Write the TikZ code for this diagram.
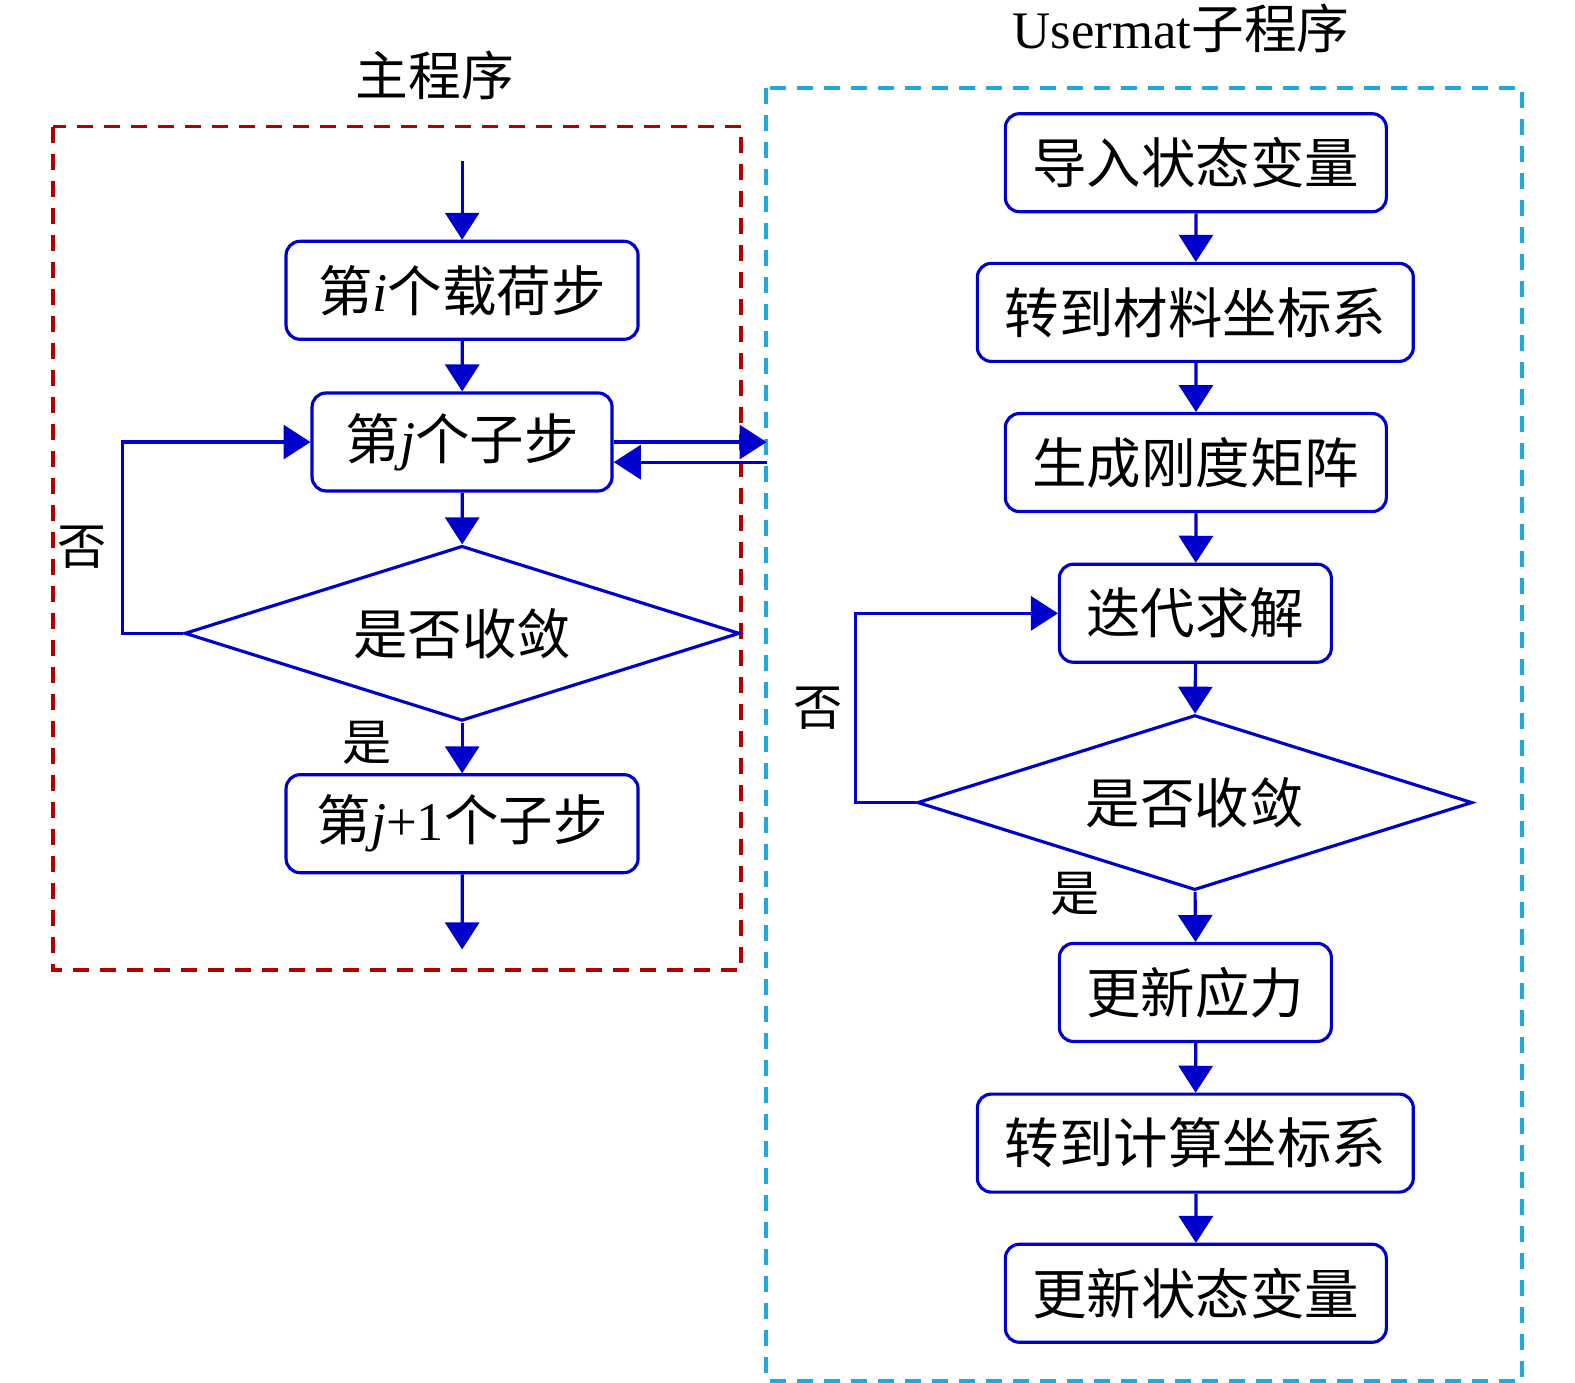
\documentclass[tikz,border=0pt]{standalone}
\usepackage{fontspec}
\setmainfont{Liberation Serif}
\newfontfamily\cjk{Noto Sans CJK SC}
\usepackage{tikz}
\usetikzlibrary{arrows.meta,shapes.geometric}
\definecolor{figblue}{RGB}{0,0,204}
\definecolor{figred}{RGB}{176,0,0}
\definecolor{figcyan}{RGB}{30,170,220}
\tikzset{
  box/.style  ={draw=figblue, line width=0.9pt, rounded corners=0.14cm, minimum height=0.98cm, inner sep=1pt, font=\cjk\fontsize{15.5pt}{18pt}\selectfont},
  dia/.style  ={draw=figblue, line width=0.9pt, diamond, aspect=3.2, minimum width=5.55cm, minimum height=1.75cm, inner sep=0pt, font=\cjk\fontsize{15.5pt}{18pt}\selectfont},
  arr/.style  ={draw=figblue, line width=0.9pt, -{Triangle[length=0.27cm,width=0.34cm]}},
  lab/.style  ={font=\cjk\fontsize{14pt}{16pt}\selectfont, inner sep=1pt},
  ttl/.style  ={font=\cjk\fontsize{15pt}{18pt}\selectfont, inner sep=1pt},
  frm/.style  ={line width=1.1pt, dash pattern=on 0.16cm off 0.11cm},
}
\begin{document}
\begin{tikzpicture}[scale=1.0045]
  \useasboundingbox (0,0) rectangle (15.68,-13.768);
  \draw[frm,figred] (0.53,-1.26) rectangle (7.38,-9.66);
  \draw[frm,figcyan] (7.63,-0.88) rectangle (15.15,-13.75);
  \node[ttl] (tmain) at (4.33,-0.75) {主程序};
  \node[ttl] (tsub) at (11.76,-0.28) {{\rmfamily Usermat}子程序};
  \node[box,minimum width=3.52cm] (b1) at (4.60,-2.89) {第{\rmfamily\itshape i}个载荷步};
  \node[box,minimum width=3.00cm] (b2) at (4.60,-4.40) {第{\rmfamily\itshape j}个子步};
  \node[dia] (d1) at (4.60,-6.305) {是否收敛};
  \node[box,minimum width=3.52cm] (b3) at (4.60,-8.20) {第{\rmfamily\itshape j}{\rmfamily +1}个子步};
  \coordinate (start) at (4.60,-1.60);
  \coordinate (stop) at (4.60,-9.45);
  \coordinate (uin) at (7.63,-4.40);
  \coordinate (uout) at (7.63,-4.60);
  \draw[arr] (start) -- (b1.north);
  \draw[arr] (b1) -- (b2);
  \draw[arr] (b2) -- (d1.north);
  \draw[arr] (d1.south) -- (b3.north);
  \draw[arr] (b3) -- (stop);
  \draw[arr] (d1.west) -- ++(-0.60,0) |- (b2.west);
  \draw[arr] (b2.east) -- (uin);
  \draw[arr] (uout) -- (b2.east |- uout);
  \node[lab] (no1) at (0.82,-5.45) {否};
  \node[lab] (yes1) at (3.65,-7.40) {是};
  \node[box,minimum width=3.81cm] (r1) at (11.905,-1.62) {导入状态变量};
  \node[box,minimum width=4.36cm] (r2) at (11.90,-3.11) {转到材料坐标系};
  \node[box,minimum width=3.81cm] (r3) at (11.905,-4.605) {生成刚度矩阵};
  \node[box,minimum width=2.72cm] (r4) at (11.90,-6.105) {迭代求解};
  \node[dia] (d2) at (11.895,-7.99) {是否收敛};
  \node[box,minimum width=2.72cm] (r5) at (11.90,-9.88) {更新应力};
  \node[box,minimum width=4.36cm] (r6) at (11.90,-11.38) {转到计算坐标系};
  \node[box,minimum width=3.81cm] (r7) at (11.905,-12.875) {更新状态变量};
  \draw[arr] (r1) -- (r2);
  \draw[arr] (r2) -- (r3);
  \draw[arr] (r3) -- (r4);
  \draw[arr] (r4) -- (d2.north);
  \draw[arr] (d2.south) -- (r5.north);
  \draw[arr] (r5) -- (r6);
  \draw[arr] (r6) -- (r7);
  \draw[arr] (d2.west) -- ++(-0.60,0) |- (r4.west);
  \node[lab] (no2) at (8.14,-7.05) {否};
  \node[lab] (yes2) at (10.70,-8.90) {是};
\end{tikzpicture}
\end{document}
